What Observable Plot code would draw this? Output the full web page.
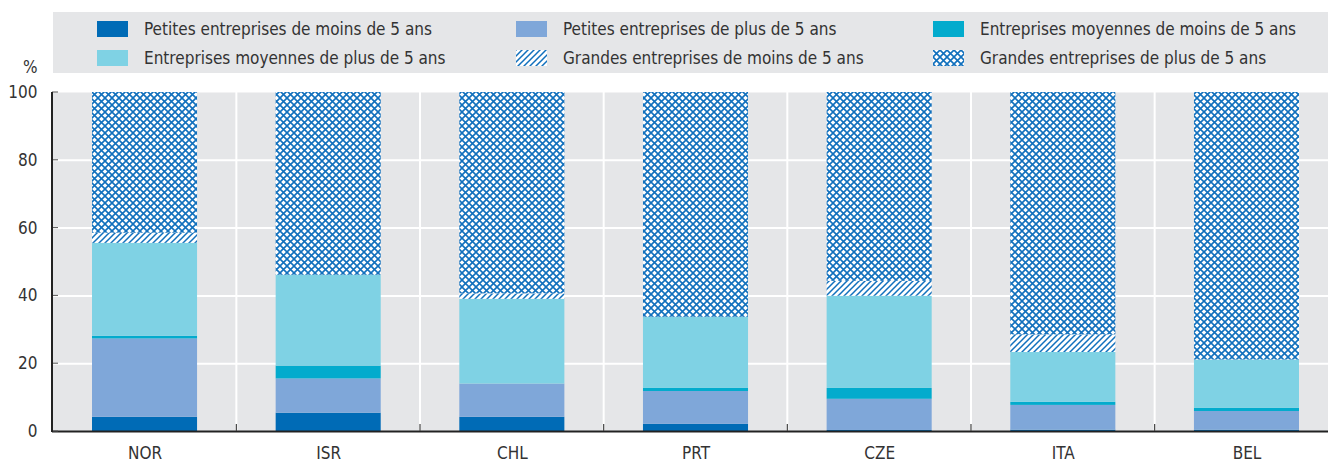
<!DOCTYPE html>
<html>
<head>
<meta charset="utf-8">
<script src="https://cdn.jsdelivr.net/npm/d3@7"></script>
<script src="https://cdn.jsdelivr.net/npm/@observablehq/plot@0.6"></script>
<style>
  html, body { margin: 0; padding: 0; background: #fff; }
  body { width: 1328px; height: 462px; overflow: hidden; position: relative;
         font-family: "Liberation Sans Narrow", "DejaVu Sans Condensed", "Roboto", sans-serif; color: #333; }
  #legend { position: absolute; left: 53px; top: 12px; width: 1275px; height: 61px; background: #e5e6e8; }
  .item { position: absolute; display: flex; align-items: center; height: 20px; font-size: 17px; white-space: nowrap; }
  .item svg { margin-right: 16px; flex: none; }
  #ylabel { position: absolute; left: 23px; top: 57px; font-size: 17px; }
  #chart { position: absolute; left: 0; top: 0; }
</style>
</head>
<body>
<div id="chart"></div>
<div id="legend"></div>
<div id="ylabel">%</div>
<script>
const categories = ["NOR", "ISR", "CHL", "PRT", "CZE", "ITA", "BEL"];
const seriesNames = [
  "Petites entreprises de moins de 5 ans",
  "Petites entreprises de plus de 5 ans",
  "Entreprises moyennes de moins de 5 ans",
  "Entreprises moyennes de plus de 5 ans",
  "Grandes entreprises de moins de 5 ans",
  "Grandes entreprises de plus de 5 ans"
];
const petitesMoins5 = [4.2, 5.4, 4.2, 2.1, 0.3, 0.4, 0.4];
const petitesPlus5  = [23.1, 10.1, 9.8, 9.7, 9.2, 7.3, 5.5];
const moyennesMoins5 = [0.8, 3.8, 0.0, 0.9, 3.2, 0.9, 0.9];
const moyennesPlus5  = [27.4, 26.8, 25.0, 21.0, 27.2, 14.7, 14.3];
const grandesMoins5  = [3.0, 0.0, 1.6, 0.0, 4.4, 5.2, 0.0];
const grandesPlus5   = [41.5, 53.9, 59.4, 66.3, 55.7, 71.5, 78.9];
const yTicks = [0, 20, 40, 60, 80, 100];

const seriesValues = [petitesMoins5, petitesPlus5, moyennesMoins5, moyennesPlus5, grandesMoins5, grandesPlus5];
const fills = ["#006bb6", "#7fa7d9", "#03abcd", "#7fd2e4", "url(#hatchPat)", "url(#crossPat)"];
const patBlue = "#1170bd";

const data = [];
seriesNames.forEach((s, si) => categories.forEach((c, ci) => data.push({country: c, series: s, value: seriesValues[si][ci]})));

const W = 1328, H = 462, mL = 52, mT = 92, mB = 31;
const fontFamily = '"Liberation Sans Narrow", "DejaVu Sans Condensed", Roboto, sans-serif';

const chart = Plot.plot({
  width: W, height: H,
  marginLeft: mL, marginRight: 0, marginTop: mT, marginBottom: mB,
  style: {fontFamily, fontSize: "17px", color: "#333", background: "transparent", overflow: "visible"},
  x: {domain: categories, range: [52.7, 1338.3], paddingInner: 0.428, paddingOuter: 0.214, round: false, label: null},
  y: {domain: [0, 100], label: null},
  color: {domain: seriesNames, range: fills},
  marks: [
    Plot.frame({fill: "#e5e6e8", stroke: null}),
    Plot.ruleY(yTicks.slice(1, -1), {stroke: "white", strokeWidth: 2}),
    Plot.barY(data, Plot.stackY({x: "country", y: "value", fill: "series", z: "series", order: seriesNames})),
    Plot.ruleY([0], {stroke: "#222", strokeWidth: 2}),
    Plot.axisY({ticks: yTicks, tickSize: 0, tickPadding: 15, label: null, fill: "#333"}),
    Plot.axisX({tickSize: 0, tickPadding: 15, label: null, fill: "#333"})
  ]
});

const NS = "http://www.w3.org/2000/svg";
function patternDefs(svgEl, suffix) {
  const defs = d3.select(svgEl).insert("defs", ":first-child");
  const h = defs.append("pattern").attr("id", "hatchPat" + suffix).attr("patternUnits", "userSpaceOnUse")
    .attr("width", 6).attr("height", 6);
  h.append("rect").attr("width", 6).attr("height", 6).attr("fill", "white");
  h.append("path").attr("d", "M-1,7 L7,-1 M-4,4 L4,-4 M2,10 L10,2").attr("stroke", patBlue).attr("stroke-width", 1.5);
  const c = defs.append("pattern").attr("id", "crossPat" + suffix).attr("patternUnits", "userSpaceOnUse")
    .attr("width", 7).attr("height", 7);
  c.append("rect").attr("width", 7).attr("height", 7).attr("fill", "white");
  c.append("path").attr("d", "M-1,-1 L8,8 M-1,8 L8,-1").attr("stroke", patBlue).attr("stroke-width", 1.6);
}
patternDefs(chart, "");

// separators, axis ticks and left axis line from the library's scales
const xs = chart.scale("x"), ys = chart.scale("y");
const gap = (xs.step - xs.bandwidth) / 2;
const y0 = ys.apply(0), y100 = ys.apply(100);
const barG = chart.querySelector('g[aria-label="bar"]');
const sepG = document.createElementNS(NS, "g");
chart.insertBefore(sepG, barG);
categories.slice(1).forEach(c => {
  const bx = xs.apply(c) - gap;
  d3.select(sepG).append("line").attr("x1", bx).attr("x2", bx).attr("y1", y100).attr("y2", y0)
    .attr("stroke", "white").attr("stroke-width", 2);
});
const topG = d3.select(chart).append("g");
categories.slice(1).forEach(c => {
  const bx = xs.apply(c) - gap;
  topG.append("line").attr("x1", bx).attr("x2", bx).attr("y1", y0 - 7).attr("y2", y0)
    .attr("stroke", "#444").attr("stroke-width", 1.2);
});
yTicks.forEach(t => {
  topG.append("line").attr("x1", mL).attr("x2", mL + 6).attr("y1", ys.apply(t)).attr("y2", ys.apply(t))
    .attr("stroke", "#555").attr("stroke-width", 1);
});
topG.append("line").attr("x1", mL).attr("x2", mL).attr("y1", y100).attr("y2", y0 + 1)
  .attr("stroke", "#222").attr("stroke-width", 2);

document.getElementById("chart").appendChild(chart);

// legend
const legend = document.getElementById("legend");
const colX = [44, 463, 880];
const rowY = [7, 36];
seriesNames.forEach((s, i) => {
  const div = document.createElement("div");
  div.className = "item";
  div.style.left = colX[i % 3] + "px";
  div.style.top = rowY[Math.floor(i / 3)] + "px";
  const sw = document.createElementNS(NS, "svg");
  sw.setAttribute("width", 31); sw.setAttribute("height", 16);
  if (i >= 4) patternDefs(sw, "L" + i);
  const r = document.createElementNS(NS, "rect");
  r.setAttribute("width", 31); r.setAttribute("height", 16);
  r.setAttribute("fill", i === 4 ? "url(#hatchPatL4)" : i === 5 ? "url(#crossPatL5)" : fills[i]);
  sw.appendChild(r);
  div.appendChild(sw);
  const span = document.createElement("span");
  span.textContent = s;
  div.appendChild(span);
  legend.appendChild(div);
});
</script>
</body>
</html>
